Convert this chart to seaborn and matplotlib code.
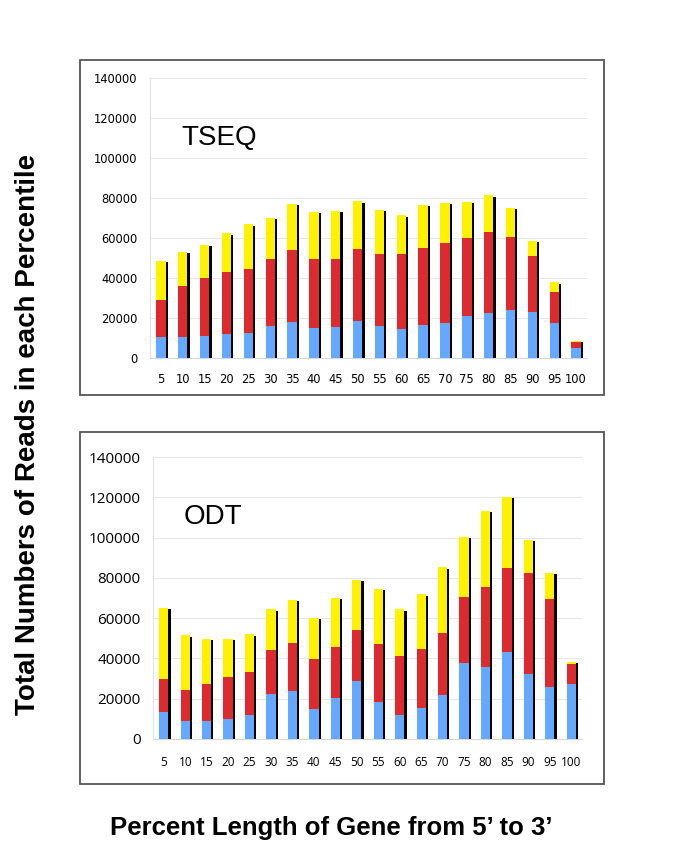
import pandas as pd
import matplotlib
matplotlib.use("Agg")
import matplotlib.pyplot as plt
import matplotlib.transforms as mtransforms
from matplotlib.patches import Rectangle
from matplotlib.ticker import FixedLocator
import seaborn as sns

# percentiles along the gene
pct = ["5", "10", "15", "20", "25", "30", "35", "40", "45", "50",
       "55", "60", "65", "70", "75", "80", "85", "90", "95", "100"]

# TSEQ: stacked segments (blue bottom, red middle, yellow top)
tseq_blue = [10300, 10700, 11000, 12000, 12700, 16200, 18200, 15200, 15300, 18300,
             16200, 14700, 16700, 17700, 20800, 22500, 24000, 23200, 17700, 5200]
tseq_red = [18700, 25500, 29200, 31000, 32000, 33100, 35600, 34100, 34400, 36200,
            36000, 37500, 38500, 40000, 39000, 40700, 36700, 28000, 15500, 2800]
tseq_yellow = [19700, 17000, 16300, 19300, 22100, 20900, 23400, 23900, 24000, 23800,
               21800, 19100, 21300, 20000, 18200, 18100, 14300, 7500, 4600, 700]

# ODT
odt_blue = [13600, 9100, 9100, 10100, 11700, 22500, 24000, 14900, 20200, 28800,
            18200, 12100, 15400, 21700, 37900, 35900, 43000, 32100, 26000, 27500]
odt_red = [16000, 15200, 18200, 20500, 21700, 21900, 23800, 24800, 25600, 25300,
           29100, 28900, 29100, 30900, 32400, 39600, 42100, 50500, 43400, 9700]
odt_yellow = [35600, 27200, 22300, 19000, 18600, 20000, 21400, 20400, 24400, 25000,
              27200, 23400, 27300, 32600, 30000, 37700, 35200, 16400, 13200, 1200]

yticks = [0, 20000, 40000, 60000, 80000, 100000, 120000, 140000]

BLUE = "#64a9ff"
RED = "#dc2a2f"
YELLOW = "#fff200"

sns.set_style("white")
plt.rcParams["font.family"] = ["Liberation Sans", "DejaVu Sans"]
plt.rcParams["text.color"] = "black"
plt.rcParams["xtick.color"] = "black"
plt.rcParams["ytick.color"] = "black"


def draw_panel(ax, blue, red, yellow, titulo, yfs, yfam, xfs, xfam, xpad):
    df = pd.DataFrame({"pct": pct, "blue": blue, "red": red, "yellow": yellow})
    df["top_red"] = df["blue"] + df["red"]
    df["total"] = df["top_red"] + df["yellow"]
    w = 0.43
    opts = dict(data=df, x="pct", width=w, saturation=1, errorbar=None,
                ax=ax, linewidth=0, edgecolor="none")
    # sombra negra desplazada
    sns.barplot(y="total", color="black", zorder=2, **opts)
    shadow = mtransforms.offset_copy(ax.transData, fig=ax.figure,
                                     x=1.6, y=-1.0, units="points")
    for p in ax.containers[0]:
        p.set_transform(shadow)
    sns.barplot(y="total", color=YELLOW, zorder=3, **opts)
    sns.barplot(y="top_red", color=RED, zorder=4, **opts)
    sns.barplot(y="blue", color=BLUE, zorder=5, **opts)

    ax.set_xlim(-0.5, len(pct) - 0.5)
    ax.set_ylim(0, 140000)
    ax.set_yticks(yticks)
    ax.set_yticklabels([str(v) for v in yticks])
    ax.set_xlabel("")
    ax.set_ylabel("")
    ax.set_axisbelow(True)
    ax.yaxis.grid(True, color="#e6e6e6", lw=0.8)
    ax.xaxis.grid(False)
    ax.tick_params(axis="y", length=0, pad=9, labelsize=yfs,
                   labelfontfamily=yfam, labelcolor="black")
    ax.tick_params(axis="x", which="major", length=0, pad=xpad,
                   labelsize=xfs, labelfontfamily=xfam, labelcolor="black")
    ax.xaxis.set_minor_locator(FixedLocator([i - 0.5 for i in range(len(pct) + 1)]))
    ax.tick_params(axis="x", which="minor", length=4, color="#d6d6d6",
                   width=0.8, direction="out")
    for s in ["top", "right"]:
        ax.spines[s].set_visible(False)
    ax.spines["left"].set_color("#e2e2e2")
    ax.spines["bottom"].set_color("#d8d8d8")
    ax.spines["left"].set_linewidth(0.8)
    ax.spines["bottom"].set_linewidth(0.8)
    ax.text(0.072, 0.787, titulo, transform=ax.transAxes, fontsize=20,
            va="center", ha="left", color="black")


fig = plt.figure(figsize=(6.85, 8.56), dpi=100)
ax1 = fig.add_axes([0.219, 0.5818, 0.638, 0.327])
ax2 = fig.add_axes([0.2234, 0.1367, 0.6263, 0.3294])

draw_panel(ax1, tseq_blue, tseq_red, tseq_yellow, "TSEQ",
           8.3, "DejaVu Sans", 8.3, "DejaVu Sans", 11)
draw_panel(ax2, odt_blue, odt_red, odt_yellow, "ODT",
           11, "Open Sans", 8.5, "Open Sans", 12)

# marcos de cada panel
for (x0, y0, w, h) in [(0.1168, 0.5386, 0.765, 0.3914),
                       (0.1168, 0.0841, 0.765, 0.4112)]:
    fig.add_artist(Rectangle((x0, y0), w, h, transform=fig.transFigure,
                             fill=False, ec="#555555", lw=1.3))

fig.text(0.041, 0.492, "Total Numbers of Reads in each Percentile",
         rotation=90, fontsize=20, fontweight="bold", ha="center", va="center",
         color="black")
fig.text(0.483, 0.0327, "Percent Length of Gene from 5\u2019 to 3\u2019",
         fontsize=18.5, fontweight="bold", ha="center", va="center",
         color="black")

fig.savefig("out.png", dpi=100)
